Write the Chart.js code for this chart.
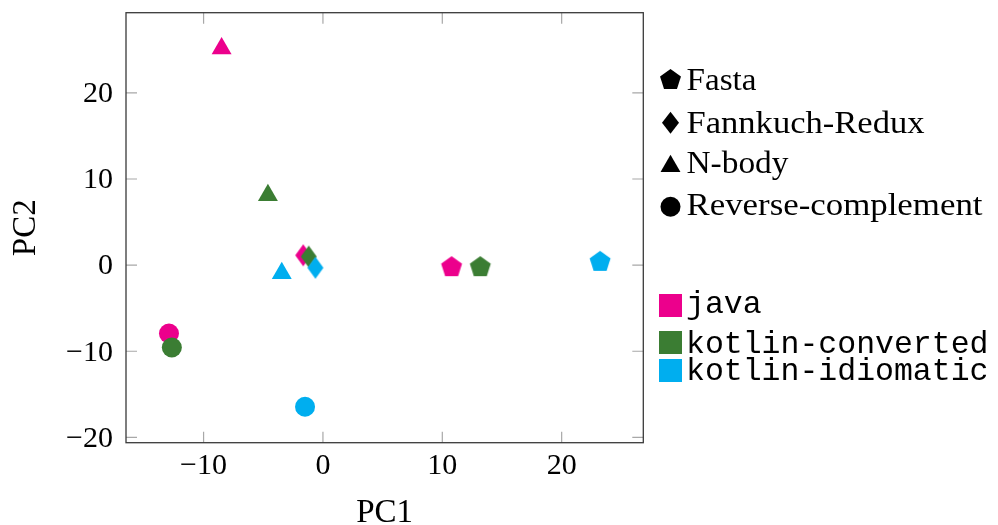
<!DOCTYPE html>
<html><head><meta charset="utf-8">
<script src="https://cdn.jsdelivr.net/npm/chart.js@4.4.0/dist/chart.umd.min.js"></script>
<style>
html,body{margin:0;padding:0;background:#fff;}
#wrap{position:relative;width:998px;height:525px;overflow:hidden;}
#c{position:absolute;left:0;top:0;}
#legend{position:absolute;left:0;top:0;}
</style></head><body>
<div id="wrap"><canvas id="c" width="998" height="525"></canvas>
<svg id="legend" width="998" height="525" xmlns="http://www.w3.org/2000/svg"></svg></div>
<script>
// ---- data ----
const benchmarks = ['Fasta', 'Fannkuch-Redux', 'N-body', 'Reverse-complement'];
const benchmarkShapes = ['pentagon', 'diamond', 'triangle', 'circle'];
const languages = ['java', 'kotlin-converted', 'kotlin-idiomatic'];
const languageColors = ['#EC008C', '#3B7D33', '#00AEEF'];
const javaPC1 = [10.78, -1.65, -8.49, -12.90];
const javaPC2 = [-0.24, 1.14, 25.15, -7.94];
const kotlinConvertedPC1 = [13.18, -1.19, -4.61, -12.66];
const kotlinConvertedPC2 = [-0.24, 0.99, 8.12, -9.56];
const kotlinIdiomaticPC1 = [23.22, -0.63, -3.45, -1.50];
const kotlinIdiomaticPC2 = [0.38, -0.31, -0.94, -16.45];
const xTicks = [-10, 0, 10, 20];
const xTickLabels = ['\u221210', '0', '10', '20'];
const yTicks = [-20, -10, 0, 10, 20];
const yTickLabels = ['\u221220', '\u221210', '0', '10', '20'];

const seriesPC1 = [javaPC1, kotlinConvertedPC1, kotlinIdiomaticPC1];
const seriesPC2 = [javaPC2, kotlinConvertedPC2, kotlinIdiomaticPC2];

// ---- marker images ----
function makeMarker(shape, color) {
  const c = document.createElement('canvas');
  const g = c.getContext('2d');
  if (shape === 'pentagon') {
    const r = 11;
    c.width = 24; c.height = 24;
    g.fillStyle = color; g.beginPath();
    for (let k = 0; k < 5; k++) {
      const a = -Math.PI / 2 + k * 2 * Math.PI / 5;
      const px = 12 + r * Math.cos(a), py = 12 + r * Math.sin(a);
      k ? g.lineTo(px, py) : g.moveTo(px, py);
    }
    g.closePath(); g.fill();
  } else if (shape === 'diamond') {
    c.width = 18; c.height = 24;
    g.fillStyle = color; g.beginPath();
    g.moveTo(9, 1); g.lineTo(17, 12); g.lineTo(9, 23); g.lineTo(1, 12);
    g.closePath(); g.fill();
  }
  return c;
}
const markerRadius = { pentagon: 11, diamond: 11, triangle: 11.5, circle: 10 };

const datasets = languages.map((lang, i) => ({
  label: lang,
  data: benchmarks.map((b, j) => ({ x: seriesPC1[i][j], y: seriesPC2[i][j] })),
  pointStyle: benchmarkShapes.map(s => (s === 'pentagon' || s === 'diamond') ? makeMarker(s, languageColors[i]) : s),
  pointRadius: benchmarkShapes.map(s => markerRadius[s]),
  pointHoverRadius: benchmarkShapes.map(s => markerRadius[s]),
  pointBackgroundColor: languageColors[i],
  backgroundColor: languageColors[i],
  pointBorderWidth: 0,
  borderWidth: 0,
  order: languages.length - 1 - i
}));

const framePlugin = {
  id: 'frame',
  afterDraw(chart) {
    const { ctx, chartArea: a, scales: { x, y } } = chart;
    ctx.save();
    ctx.strokeStyle = '#a8a8a8';
    ctx.lineWidth = 1.2;
    const L = 11;
    ctx.beginPath();
    x.ticks.forEach(t => {
      const p = x.getPixelForValue(t.value);
      ctx.moveTo(p, a.bottom); ctx.lineTo(p, a.bottom - L);
      ctx.moveTo(p, a.top); ctx.lineTo(p, a.top + L);
    });
    y.ticks.forEach(t => {
      const p = y.getPixelForValue(t.value);
      ctx.moveTo(a.left, p); ctx.lineTo(a.left + L, p);
      ctx.moveTo(a.right, p); ctx.lineTo(a.right - L, p);
    });
    ctx.stroke();
    ctx.strokeStyle = '#3a3a3a';
    ctx.lineWidth = 1.3;
    ctx.strokeRect(a.left, a.top, a.right - a.left, a.bottom - a.top);
    ctx.restore();
  }
};

function noPad(s) {
  s.paddingTop = 0; s.paddingBottom = 0; s.paddingLeft = 0; s.paddingRight = 0;
}

new Chart(document.getElementById('c'), {
  type: 'scatter',
  data: { datasets },
  options: {
    responsive: false,
    animation: false,
    events: [],
    layout: { padding: { left: 0, top: 12.7, right: 354.7, bottom: 0 } },
    plugins: { legend: { display: false }, tooltip: { enabled: false } },
    scales: {
      x: {
        type: 'linear', min: -16.5, max: 26.84,
        afterBuildTicks: s => { s.ticks = xTicks.map(v => ({ value: v })); },
        afterFit: s => { s.height = 82.3; noPad(s); },
        ticks: {
          autoSkip: false, maxRotation: 0, padding: 5, color: '#000',
          font: { family: 'Liberation Serif', size: 30 },
          callback: v => xTickLabels[xTicks.indexOf(v)]
        },
        grid: { display: false, drawTicks: false },
        border: { display: false },
        title: {
          display: true, text: 'PC1', color: '#000',
          font: { family: 'Liberation Serif', size: 33, lineHeight: 0.72 },
          padding: { top: 0, bottom: 0 }
        }
      },
      y: {
        type: 'linear', min: -20.62, max: 29.31,
        afterBuildTicks: s => { s.ticks = yTicks.map(v => ({ value: v })); },
        afterFit: s => { s.width = 126; noPad(s); },
        ticks: {
          autoSkip: false, padding: 13, labelOffset: 1.5, color: '#000',
          font: { family: 'Liberation Serif', size: 30 },
          callback: v => yTickLabels[yTicks.indexOf(v)]
        },
        grid: { display: false, drawTicks: false },
        border: { display: false },
        title: {
          display: true, text: 'PC2', color: '#000',
          font: { family: 'Liberation Serif', size: 33, lineHeight: 0.72 },
          padding: { top: 14, bottom: 0 }
        }
      }
    }
  },
  plugins: [framePlugin]
});

// ---- legend (SVG, real text) ----
const svgNS = 'http://www.w3.org/2000/svg';
const svg = document.getElementById('legend');
function el(tag, attrs, text) {
  const e = document.createElementNS(svgNS, tag);
  for (const k in attrs) e.setAttribute(k, attrs[k]);
  if (text !== undefined) e.textContent = text;
  svg.appendChild(e);
  return e;
}
function shapePath(shape, cx, cy) {
  if (shape === 'pentagon') {
    const pts = [];
    for (let k = 0; k < 5; k++) {
      const a = -Math.PI / 2 + k * 2 * Math.PI / 5;
      pts.push((cx + 11 * Math.cos(a)).toFixed(2) + ',' + (cy + 11 * Math.sin(a)).toFixed(2));
    }
    el('polygon', { points: pts.join(' '), fill: '#000' });
  } else if (shape === 'diamond') {
    el('polygon', { points: `${cx},${cy - 11} ${cx + 8.5},${cy} ${cx},${cy + 11} ${cx - 8.5},${cy}`, fill: '#000' });
  } else if (shape === 'triangle') {
    const r = 11.5;
    const pts = [0, 1, 2].map(k => {
      const a = -Math.PI / 2 + k * 2 * Math.PI / 3;
      return (cx + r * Math.cos(a)).toFixed(2) + ',' + (cy + r * Math.sin(a)).toFixed(2);
    });
    el('polygon', { points: pts.join(' '), fill: '#000' });
  } else {
    el('circle', { cx, cy, r: 10, fill: '#000' });
  }
}
const benchLegendMarkerY = [80, 122.7, 166.3, 206.7];
const benchLegendBaseline = [90, 132.7, 173, 215];
const benchLegendWidth = [70, 238, 102, 296];
benchmarks.forEach((b, j) => {
  shapePath(benchmarkShapes[j], 670.5, benchLegendMarkerY[j]);
  el('text', {
    x: 686.5, y: benchLegendBaseline[j], 'font-family': 'Liberation Serif', 'font-size': 31,
    fill: '#000', textLength: benchLegendWidth[j], lengthAdjust: 'spacingAndGlyphs'
  }, b);
});
const langSquareTop = [294, 331, 359];
const langBaseline = [313, 353, 380];
languages.forEach((l, i) => {
  el('rect', { x: 659, y: langSquareTop[i], width: 23, height: 23, fill: languageColors[i] });
  el('text', {
    x: 686, y: langBaseline[i], 'font-family': 'Liberation Mono', 'font-size': 31.5, fill: '#000'
  }, l);
});
</script>
</body></html>
